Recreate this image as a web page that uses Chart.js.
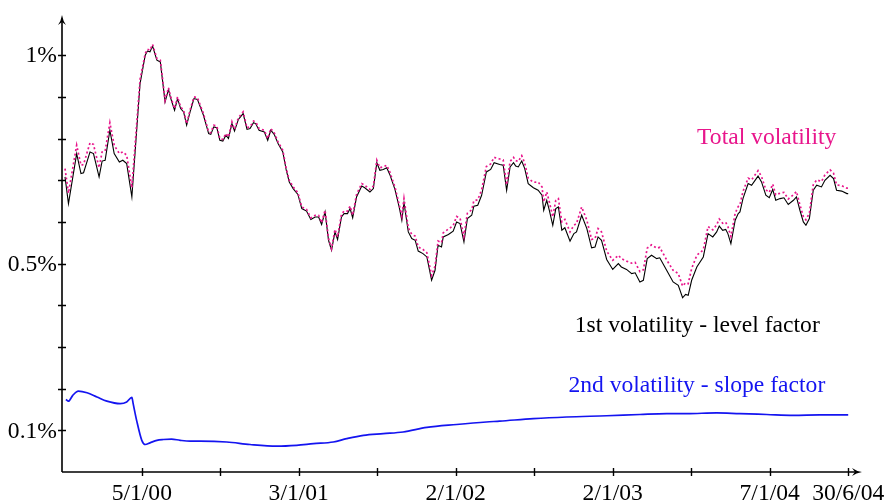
<!DOCTYPE html>
<html>
<head>
<meta charset="utf-8">
<script src="https://cdn.jsdelivr.net/npm/chart.js@4"></script>
<style>
  html, body { margin: 0; padding: 0; background: #fff; }
  #wrap { width: 885px; height: 502px; }
</style>
</head>
<body>
<div id="wrap"><canvas id="c" width="885" height="502"></canvas></div>
<script>
// Days relative to 5 Jan 2000 for the level / total series
const days = [
  -178,-170,-151,-141,-135,-120,-112,-99,-92,-85,-74,-64,-52,-44,-35,-23,-4,
  8,13,19,25,35,43,54,62,66,76,83,90,97,104,113,121,129,143,155,160,167,174,
  181,188,195,201,209,215,224,235,244,251,259,264,272,284,292,299,307,316,327,
  335,342,351,362,371,382,392,402,410,417,425,433,440,448,454,463,469,477,483,
  489,498,510,517,529,537,545,552,560,568,575,587,597,603,608,618,626,634,641,
  652,661,672,680,687,695,699,711,722,730,738,747,755,765,770,779,788,799,809,
  817,830,838,846,854,862,867,873,881,888,896,908,919,928,932,939,945,953,960,
  966,974,981,993,1002,1008,1020,1032,1043,1051,1058,1066,1078,1092,1105,1112,
  1124,1136,1144,1155,1163,1172,1182,1194,1201,1217,1232,1244,1254,1261,1267,
  1275,1287,1302,1313,1324,1333,1339,1347,1354,1359,1366,1376,1383,1387,1394,
  1406,1414,1429,1437,1447,1455,1463,1470,1480,1489,1499,1511,1518,1526,1534,
  1540,1548,1557,1565,1576,1584,1596,1604,1611,1623,1635,1638
];

// 1st volatility - level factor (%)
const levelVol = [
  0.708,0.644,0.764,0.716,0.718,0.768,0.764,0.708,0.746,0.748,0.820,0.764,0.744,0.748,0.740,0.660,0.932,
  1.000,1.010,1.008,1.022,0.988,0.984,0.888,0.918,0.900,0.868,0.896,0.872,0.864,0.832,0.868,0.896,0.894,0.856,0.812,0.810,0.828,0.826,
  0.796,0.794,0.808,0.800,0.836,0.818,0.846,0.860,0.822,0.824,0.838,0.836,0.820,0.816,0.796,0.820,0.810,0.788,0.768,
  0.724,0.696,0.680,0.666,0.632,0.626,0.606,0.612,0.612,0.594,0.624,0.556,0.532,0.576,0.558,0.612,0.620,0.620,0.632,
  0.610,0.660,0.686,0.682,0.672,0.680,0.742,0.724,0.726,0.730,0.714,0.678,0.635,0.604,0.646,0.576,0.560,0.556,0.530,
  0.524,0.516,0.460,0.484,0.544,0.540,0.564,0.570,0.578,0.600,0.596,0.552,0.608,0.616,0.638,0.640,0.664,0.720,0.726,
  0.742,0.738,0.736,0.676,0.732,0.742,0.734,0.732,0.746,0.728,0.692,0.682,0.676,0.664,0.628,0.652,0.628,0.592,0.632,
  0.636,0.580,0.586,0.554,0.572,0.576,0.616,0.584,0.538,0.540,0.564,0.556,0.510,0.486,0.500,0.492,
  0.486,0.476,0.478,0.456,0.460,0.512,0.520,0.512,0.514,0.484,0.456,0.448,0.418,0.426,0.424,
  0.460,0.492,0.516,0.572,0.564,0.576,0.590,0.580,0.582,0.572,0.548,0.604,0.620,0.624,0.656,
  0.692,0.688,0.710,0.696,0.664,0.658,0.678,0.652,0.656,0.658,0.642,0.652,0.660,0.628,0.600,
  0.592,0.608,0.676,0.688,0.684,0.700,0.712,0.704,0.676,0.674,0.668,0.668
];

// Total volatility (%)
const totalVol = [
  0.728,0.669,0.784,0.736,0.738,0.790,0.786,0.730,0.768,0.770,0.838,0.784,0.764,0.768,0.760,0.682,0.942,
  1.004,1.014,1.012,1.026,0.992,0.988,0.892,0.922,0.904,0.872,0.900,0.876,0.868,0.836,0.872,0.900,0.898,0.860,0.816,0.814,0.832,0.830,
  0.800,0.798,0.812,0.804,0.840,0.822,0.850,0.864,0.826,0.828,0.842,0.840,0.824,0.820,0.800,0.824,0.814,0.792,0.772,
  0.728,0.700,0.684,0.670,0.636,0.630,0.610,0.616,0.616,0.598,0.628,0.560,0.536,0.582,0.564,0.618,0.626,0.626,0.638,
  0.616,0.666,0.692,0.688,0.678,0.686,0.748,0.730,0.732,0.736,0.720,0.684,0.641,0.614,0.656,0.586,0.570,0.566,0.540,
  0.534,0.526,0.472,0.494,0.554,0.550,0.574,0.583,0.591,0.613,0.609,0.565,0.621,0.629,0.651,0.653,0.677,0.733,0.739,
  0.755,0.751,0.749,0.689,0.745,0.755,0.747,0.745,0.759,0.741,0.705,0.695,0.696,0.684,0.648,0.672,0.648,0.612,0.652,
  0.656,0.600,0.606,0.576,0.592,0.596,0.636,0.604,0.558,0.560,0.584,0.576,0.530,0.508,0.520,0.512,
  0.506,0.501,0.503,0.481,0.485,0.537,0.545,0.537,0.539,0.509,0.484,0.476,0.446,0.454,0.452,
  0.488,0.520,0.533,0.589,0.581,0.593,0.607,0.597,0.599,0.589,0.565,0.621,0.637,0.641,0.673,
  0.705,0.701,0.723,0.709,0.677,0.671,0.691,0.665,0.669,0.671,0.655,0.665,0.673,0.641,0.613,
  0.605,0.621,0.689,0.701,0.697,0.713,0.725,0.717,0.689,0.687,0.681,0.681
];

// 2nd volatility - slope factor (%)
const slopeDays = [
  -176,-170,-160,-147,-127,-104,-81,-50,-35,-23,-20,-12,0,8,19,35,50,69,89,112,135,
  197,251,313,359,398,444,475,514,560,606,661,730,799,830,908,985,1078,1155,1217,
  1264,1333,1387,1449,1511,1572,1638
];
const slopeVol = [
  0.174,0.170,0.184,0.194,0.190,0.180,0.170,0.164,0.168,0.179,0.164,0.124,0.076,0.066,0.070,0.076,0.078,0.079,0.076,0.074,0.074,
  0.072,0.066,0.062,0.064,0.068,0.072,0.080,0.088,0.092,0.096,0.107,0.114,0.120,0.122,0.128,0.132,0.135,0.138,0.140,
  0.140,0.142,0.140,0.138,0.136,0.137,0.137
];

// Axis ticks
const xTickDays = [0, 182, 364, 546, 728, 910, 1092, 1274, 1456, 1638];
const xTickLabels = ['5/1/00', '', '3/1/01', '', '2/1/02', '', '2/1/03', '', '7/1/04', '30/6/04'];
const yTickValues = [0.1, 0.2, 0.3, 0.4, 0.5, 0.6, 0.7, 0.8, 0.9, 1.0];
const yTickLabels = ['0.1%', '', '', '', '0.5%', '', '', '', '', '1%'];

const MAGENTA = '#e8168c';
const BLUE = '#1414f0';
const FONT = '23.6px "Liberation Serif", "DejaVu Serif", serif';

const toPoints = (xs, ys) => xs.map((x, i) => ({ x, y: ys[i] }));

// Draws the arrowed axes, crossing ticks, tick labels and the series captions
const axesPlugin = {
  id: 'arrowAxes',
  afterDatasetsDraw(chart) {
    const { ctx, chartArea: a, scales: { x, y } } = chart;
    ctx.save();
    ctx.strokeStyle = '#000';
    ctx.fillStyle = '#000';
    ctx.lineWidth = 1.6;

    const x0 = a.left, y0 = a.bottom;
    // axis lines
    ctx.beginPath();
    ctx.moveTo(x0, y0);
    ctx.lineTo(x0, a.top + 4);
    ctx.moveTo(x0, y0);
    ctx.lineTo(a.right - 4, y0);
    ctx.stroke();

    // arrowheads
    ctx.beginPath();
    ctx.moveTo(x0, a.top);
    ctx.quadraticCurveTo(x0 + 1, a.top + 6, x0 + 4, a.top + 10);
    ctx.lineTo(x0, a.top + 7);
    ctx.lineTo(x0 - 4, a.top + 10);
    ctx.quadraticCurveTo(x0 - 1, a.top + 6, x0, a.top);
    ctx.fill();
    ctx.beginPath();
    ctx.moveTo(a.right, y0);
    ctx.quadraticCurveTo(a.right - 6, y0 + 1, a.right - 10, y0 + 4);
    ctx.lineTo(a.right - 7, y0);
    ctx.lineTo(a.right - 10, y0 - 4);
    ctx.quadraticCurveTo(a.right - 6, y0 - 1, a.right, y0);
    ctx.fill();

    // ticks
    ctx.lineWidth = 1.4;
    ctx.beginPath();
    yTickValues.forEach(v => {
      const py = Math.round(y.getPixelForValue(v)) + 0.5;
      ctx.moveTo(x0 - 4, py);
      ctx.lineTo(x0 + 4, py);
    });
    xTickDays.forEach(d => {
      const px = Math.round(x.getPixelForValue(d)) + 0.5;
      ctx.moveTo(px, y0 - 4);
      ctx.lineTo(px, y0 + 4);
    });
    ctx.stroke();

    // tick labels
    ctx.font = FONT;
    ctx.textAlign = 'right';
    ctx.textBaseline = 'middle';
    yTickValues.forEach((v, i) => {
      if (yTickLabels[i]) ctx.fillText(yTickLabels[i], x0 - 5, y.getPixelForValue(v) + 1);
    });
    ctx.textAlign = 'center';
    ctx.textBaseline = 'alphabetic';
    xTickDays.forEach((d, i) => {
      if (xTickLabels[i]) ctx.fillText(xTickLabels[i], x.getPixelForValue(d), y0 + 28);
    });

    // series captions
    const captions = chart.options.plugins.arrowAxes.captions;
    captions.forEach(c => {
      ctx.fillStyle = c.color;
      ctx.fillText(c.text, x.getPixelForValue(c.day), y.getPixelForValue(c.value));
    });
    ctx.restore();
  }
};

new Chart(document.getElementById('c'), {
  type: 'line',
  data: {
    datasets: [
      {
        label: 'Total volatility',
        data: toPoints(days, totalVol),
        borderColor: MAGENTA,
        borderWidth: 1.7,
        borderDash: [2, 2.5],
        pointRadius: 0,
        tension: 0
      },
      {
        label: '1st volatility - level factor',
        data: toPoints(days, levelVol),
        borderColor: '#000',
        borderWidth: 1.1,
        pointRadius: 0,
        tension: 0
      },
      {
        label: '2nd volatility - slope factor',
        data: toPoints(slopeDays, slopeVol),
        borderColor: BLUE,
        borderWidth: 1.7,
        pointRadius: 0,
        cubicInterpolationMode: 'monotone'
      }
    ]
  },
  options: {
    responsive: false,
    animation: false,
    layout: { padding: { left: 62, right: 23, top: 15, bottom: 30 } },
    scales: {
      x: { type: 'linear', min: -185, max: 1670, display: false },
      y: { type: 'linear', min: 0, max: 1.0965, display: false }
    },
    plugins: {
      legend: { display: false },
      tooltip: { enabled: false },
      arrowAxes: {
        captions: [
          { text: 'Total volatility', color: MAGENTA, day: 1449, value: 0.787 },
          { text: '1st volatility - level factor', color: '#000', day: 1288, value: 0.336 },
          { text: '2nd volatility - slope factor', color: BLUE, day: 1287, value: 0.191 }
        ]
      }
    }
  },
  plugins: [axesPlugin]
});
</script>
</body>
</html>
